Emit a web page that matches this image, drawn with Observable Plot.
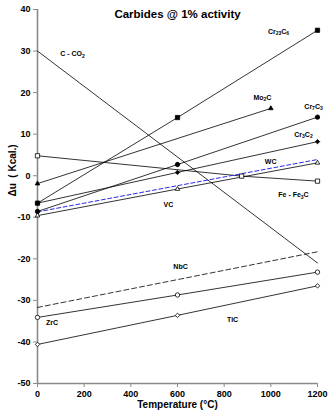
<!DOCTYPE html>
<html>
<head>
<meta charset="utf-8">
<script src="https://cdn.jsdelivr.net/npm/d3@7"></script>
<script src="https://cdn.jsdelivr.net/npm/@observablehq/plot@0.6"></script>
<style>
  html, body { margin: 0; padding: 0; background: #fff; }
  svg { font-family: "Liberation Sans", Arial, sans-serif; }
</style>
</head>
<body>
<div id="chart"></div>
<script>
const title = "Carbides @ 1% activity";
const xLabel = "Temperature (°C)";
const yLabel = "Δu  ( Kcal.)";
const xTicks = [0, 200, 400, 600, 800, 1000, 1200];
const yTicks = [-50, -40, -30, -20, -10, 0, 10, 20, 30, 40];

// series: temperatures and values
const cco2T = [0, 1200],        cco2V = [30, -21];
const cr23c6T = [0, 600, 1200], cr23c6V = [-6.6, 14.0, 35.0];
const mo2cT = [0, 1000],        mo2cV = [-1.9, 16.2];
const cr7c3T = [0, 600, 1200],  cr7c3V = [-8.6, 2.7, 14.1];
const cr3c2T = [0, 600, 1200],  cr3c2V = [-6.6, 0.8, 8.2];
const fe3cT = [0, 875, 1200],   fe3cV = [4.8, -0.1, -1.3];
const wcT = [0, 1200],          wcV = [-8.7, 3.9];
const vcT = [0, 600, 1200],     vcV = [-9.6, -3.2, 3.1];
const nbcT = [0, 1200],         nbcV = [-31.7, -18.3];
const zrcT = [0, 600, 1200],    zrcV = [-34.1, -28.7, -23.2];
const ticT = [0, 600, 1200],    ticV = [-40.6, -33.6, -26.5];

// labels (text, temperature, value)
const labelText = ["C - CO₂", "Cr₂₃C₆", "Mo₂C", "Cr₇C₃", "Cr₃C₂", "WC", "Fe - Fe₃C", "VC", "NbC", "ZrC", "TiC"];
const labelT    = [150, 1033, 964, 1183, 1140, 999, 1097, 561, 613, 62, 836];
const labelV    = [29.3, 34.7, 18.8, 16.6, 9.9, 3.4, -4.6, -7.0, -22.0, -35.4, -34.7];

const pts = (T, V) => T.map((t, i) => ({t, v: V[i]}));

const series = [
  {d: pts(cco2T, cco2V)},
  {d: pts(cr23c6T, cr23c6V), sym: "square", fill: "black"},
  {d: pts(mo2cT, mo2cV), sym: "triangle", fill: "black"},
  {d: pts(cr7c3T, cr7c3V), sym: "circle", fill: "black"},
  {d: pts(cr3c2T, cr3c2V), sym: "diamond2", fill: "black"},
  {d: pts(fe3cT, fe3cV), sym: "square", fill: "white"},
  {d: pts(wcT, wcV), stroke: "#2a2ae8", dash: "4,2.5"},
  {d: pts(vcT, vcV), sym: "triangle", fill: "white"},
  {d: pts(nbcT, nbcV), dash: "5,3"},
  {d: pts(zrcT, zrcV), sym: "circle", fill: "white"},
  {d: pts(ticT, ticV), sym: "diamond2", fill: "white"}
];

const marks = [];
const axisGray = "#8a8a8a";
marks.push(Plot.axisY(yTicks, {tickSize: 4, tickPadding: 3, stroke: axisGray, strokeWidth: 1, fontSize: 9, fontWeight: "bold", fill: "black", label: null, tickFormat: d => String(d)}));
marks.push(Plot.axisX(xTicks, {tickSize: 4, tickPadding: 3, stroke: axisGray, strokeWidth: 1, fontSize: 9, fontWeight: "bold", fill: "black", label: null, tickFormat: d => String(d)}));
marks.push(Plot.ruleX([0], {stroke: axisGray, strokeWidth: 1.6}));
marks.push(Plot.ruleY([-50], {stroke: axisGray, strokeWidth: 1.6}));

for (const s of series) {
  marks.push(Plot.line(s.d, {x: "t", y: "v", stroke: s.stroke || "black", strokeWidth: s.stroke ? 1 : 0.8, strokeDasharray: s.dash}));
}
const symR = {square: 2.4, triangle: 1.7, circle: 2.2, diamond2: 2.0};
for (const s of series) {
  if (!s.sym) continue;
  marks.push(Plot.dot(s.d, {x: "t", y: "v", symbol: () => s.sym, r: symR[s.sym], fill: s.fill, stroke: "black", strokeWidth: 0.8}));
}

const labels = labelText.map((text, i) => ({text, t: labelT[i], v: labelV[i]}));
marks.push(Plot.text(labels, {x: "t", y: "v", text: "text", fontSize: 7, fontWeight: "bold", fill: "black", className: "serieslabel"}));

marks.push(Plot.text([title], {frameAnchor: "top", dy: 0, fontSize: 11.5, fontWeight: "bold", fill: "black"}));
marks.push(Plot.text([xLabel], {frameAnchor: "bottom", dy: 24, fontSize: 10, fontWeight: "bold", fill: "black"}));
marks.push(Plot.text([yLabel], {frameAnchor: "left", dx: -25, rotate: -90, fontSize: 10, fontWeight: "bold", fill: "black"}));

const chart = Plot.plot({
  width: 329,
  height: 420,
  marginLeft: 37,
  marginRight: 12,
  marginTop: 9,
  marginBottom: 37,
  style: {fontFamily: "'Liberation Sans', Arial, sans-serif", background: "white"},
  x: {domain: [0, 1200]},
  y: {domain: [-50, 40]},
  marks
});

// turn Unicode subscript digits into real subscript tspans
const subMap = {"₀":"0","₁":"1","₂":"2","₃":"3","₄":"4","₅":"5","₆":"6","₇":"7","₈":"8","₉":"9"};
chart.querySelectorAll("g.serieslabel text").forEach(t => {
  const s = t.textContent;
  if (!/[₀-₉]/.test(s)) return;
  const parts = s.match(/[₀-₉]+|[^₀-₉]+/g);
  t.textContent = "";
  for (const p of parts) {
    const ts = document.createElementNS("http://www.w3.org/2000/svg", "tspan");
    if (subMap[p[0]]) {
      ts.textContent = [...p].map(c => subMap[c]).join("");
      ts.setAttribute("font-size", "5");
      ts.setAttribute("dy", "1.5");
    } else {
      ts.textContent = p;
      ts.setAttribute("dy", t.childNodes.length ? "-1.5" : "0");
    }
    t.appendChild(ts);
  }
});
document.getElementById("chart").appendChild(chart);
</script>
</body>
</html>
